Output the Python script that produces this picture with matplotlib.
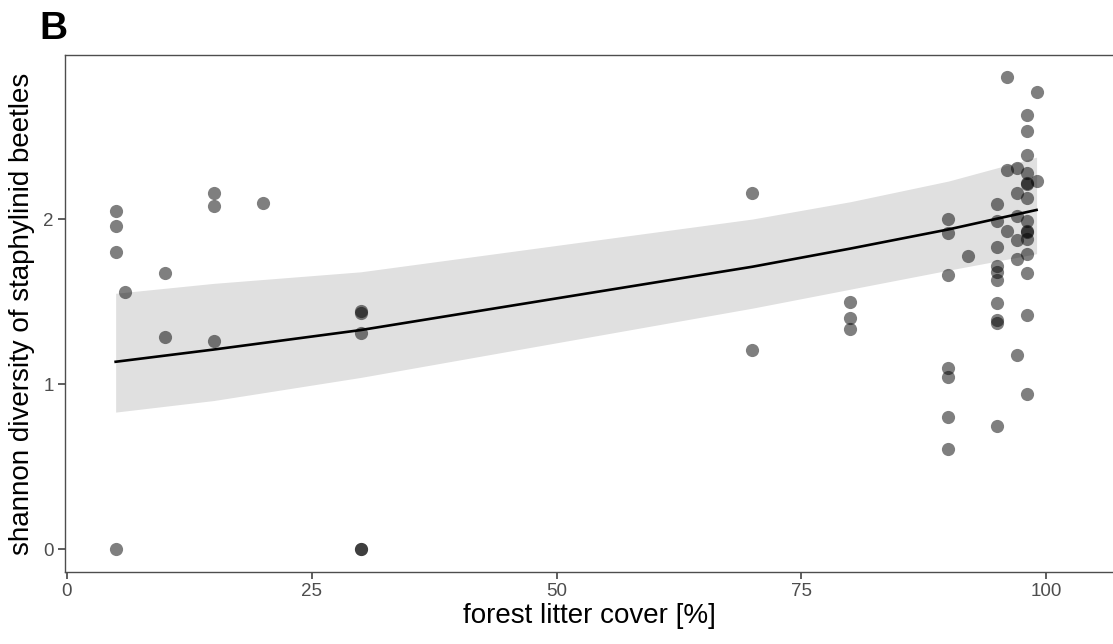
import matplotlib.pyplot as plt
import numpy as np

plt.rcParams['font.family'] = ['Liberation Sans', 'DejaVu Sans']

# litter cover [%] and shannon diversity for every trap
cover = [5, 5, 5, 5, 6, 10, 10, 15, 15, 15, 20,
         30, 30, 30, 30, 30, 70, 70, 80, 80, 80,
         90, 90, 90, 90, 90, 90, 90, 92,
         95, 95, 95, 95, 95, 95, 95, 95, 95, 95,
         96, 96, 96,
         97, 97, 97, 97, 97, 97,
         98, 98, 98, 98, 98, 98, 98, 98, 98, 98, 98, 98, 98, 98, 98,
         99, 99]
shannon = [2.05, 1.96, 1.80, 0.0, 1.56, 1.675, 1.287, 2.16, 2.08, 1.26, 2.10,
           1.44, 1.43, 1.31, 0.0, 0.0, 2.16, 1.206, 1.50, 1.40, 1.333,
           2.00, 1.913, 1.66, 1.095, 1.044, 0.80, 0.606, 1.775,
           2.09, 1.99, 1.832, 1.715, 1.68, 1.63, 1.493, 1.39, 1.37, 0.745,
           2.86, 2.30, 1.925,
           2.31, 2.16, 2.02, 1.87, 1.76, 1.176,
           2.63, 2.535, 2.39, 2.277, 2.22, 2.21, 2.125, 1.99, 1.93, 1.92,
           1.88, 1.79, 1.67, 1.42, 0.94,
           2.77, 2.23]

# fitted model (log link) and confidence band, read at several x values
fit_x = [5, 15, 30, 70, 80, 90, 99]
fit_y = [1.135, 1.209, 1.327, 1.711, 1.821, 1.937, 2.055]
fit_lo = [0.83, 0.90, 1.04, 1.46, 1.575, 1.69, 1.79]
fit_hi = [1.55, 1.61, 1.68, 2.00, 2.105, 2.23, 2.375]

fig = plt.figure(figsize=(11.13, 6.44), dpi=100)
ax = fig.add_axes([0.0584, 0.1118, 0.9416, 0.8028])

ax.fill_between(fit_x, fit_lo, fit_hi, color='#e0e0e0', lw=0, zorder=1)
ax.plot(fit_x, fit_y, color='black', lw=1.9, zorder=2)
ax.scatter(cover, shannon, s=90, color='black', alpha=0.5, lw=0, zorder=3)

ax.set_xlim(-0.17, 106.8)
ax.set_ylim(-0.139, 2.994)
ax.set_xticks([0, 25, 50, 75, 100])
ax.set_yticks([0, 1, 2])

for side in ['left', 'bottom', 'top']:
    ax.spines[side].set_color('#4d4d4d')
    ax.spines[side].set_linewidth(1.0)
ax.spines['right'].set_visible(False)

ax.tick_params(length=5, width=1.1, color='#333333', labelcolor='#4d4d4d',
               labelsize=13.5, pad=3)

ax.set_xlabel('forest litter cover [%]', fontsize=20, color='black', labelpad=2)
ax.set_ylabel('shannon diversity of staphylinid beetles', fontsize=20,
              color='black', labelpad=6)

fig.text(0.035, 0.9394, 'B', fontsize=28, fontweight='bold', va='baseline')

fig.savefig('out.png', dpi=100)
